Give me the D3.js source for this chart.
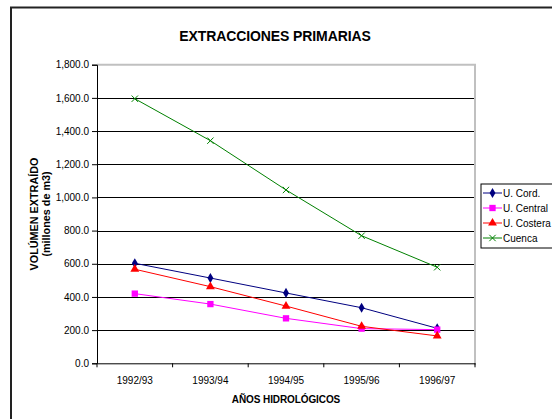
<!DOCTYPE html>
<html>
<head>
	<meta charset="utf-8">
	<title>Extracciones primarias</title>
	<script src="https://cdn.jsdelivr.net/npm/d3@7"></script>
	<style>
		body { margin: 0; background: #fff; }
		text { font-family: "Liberation Sans", Arial, sans-serif; fill: #000; }
	</style>
</head>
<body>
<script>
// datos
var years = ["1992/93", "1993/94", "1994/95", "1995/96", "1996/97"];
var cord = [603, 514, 424, 335, 211];
var central = [420, 357, 271, 209, 203];
var costera = [567, 462, 345, 223, 165];
var cuenca = [1595, 1342, 1045, 769, 579];
var yTicks = [0, 200, 400, 600, 800, 1000, 1200, 1400, 1600, 1800];

var series = [
	{ name: "U. Cord.", values: cord, color: "#000080", symbol: d3.symbolDiamond, size: 30 },
	{ name: "U. Central", values: central, color: "#ff00ff", symbol: d3.symbolSquare, size: 40 },
	{ name: "U. Costera", values: costera, color: "#ff0000", symbol: d3.symbolTriangle, size: 34 },
	{ name: "Cuenca", values: cuenca, color: "#008000", symbol: d3.symbolX, size: 28 }
];

var width = 552, height = 419;
var plotLeft = 97, plotRight = 475, plotTop = 64.7, plotBottom = 363.3;

var svg = d3.select("body").append("svg")
	.attr("width", width)
	.attr("height", height);

// marco exterior
svg.append("rect")
	.attr("x", 11).attr("y", 7.5)
	.attr("width", 600).attr("height", 500)
	.attr("fill", "none").attr("stroke", "#222").attr("stroke-width", 2);

var x = d3.scaleBand().domain(years).range([plotLeft, plotRight]);
var y = d3.scaleLinear().domain([0, 1800]).range([plotBottom, plotTop]);

// líneas de cuadrícula
svg.append("g").selectAll("line")
	.data(yTicks.slice(1, -1))
	.enter().append("line")
	.attr("x1", plotLeft).attr("x2", plotRight)
	.attr("y1", function(d){ return Math.round(y(d)) + 0.5; })
	.attr("y2", function(d){ return Math.round(y(d)) + 0.5; })
	.attr("stroke", "#000").attr("stroke-width", 1);

// borde del área de trazado
svg.append("line")
	.attr("x1", plotLeft).attr("x2", plotRight + 1)
	.attr("y1", y(1800)).attr("y2", y(1800))
	.attr("stroke", "#c0c0c0").attr("stroke-width", 2);
svg.append("line")
	.attr("x1", plotRight).attr("x2", plotRight)
	.attr("y1", y(1800)).attr("y2", plotBottom + 2)
	.attr("stroke", "#c0c0c0").attr("stroke-width", 2);

// eje Y
var yAxis = svg.append("g")
	.attr("transform", "translate(" + plotLeft + ",0)")
	.call(d3.axisLeft(y).tickValues(yTicks).tickSize(5).tickPadding(3)
		.tickFormat(function(d){ return d3.format(",.1f")(d); }));
yAxis.select(".domain").attr("stroke", "#000");
yAxis.selectAll("text").style("font-size", "10px").style("font-family", "Liberation Sans, Arial, sans-serif");

// eje X
var xAxis = svg.append("g")
	.attr("transform", "translate(0," + plotBottom + ")")
	.call(d3.axisBottom(x).tickSize(0).tickPadding(14));
xAxis.select(".domain").attr("stroke", "#000");
xAxis.selectAll("text").style("font-size", "10px").style("font-family", "Liberation Sans, Arial, sans-serif");
xAxis.selectAll(".sep")
	.data(years.concat([""]))
	.enter().append("line")
	.attr("x1", function(d, i){ return plotLeft + i * x.bandwidth(); })
	.attr("x2", function(d, i){ return plotLeft + i * x.bandwidth(); })
	.attr("y1", 0).attr("y2", 4)
	.attr("stroke", "#000");

// series
var line = d3.line()
	.x(function(d, i){ return x(years[i]) + x.bandwidth() / 2; })
	.y(function(d){ return y(d); });

series.forEach(function(s){
	svg.append("path")
		.attr("d", line(s.values))
		.attr("fill", "none")
		.attr("stroke", s.color)
		.attr("stroke-width", 1);
	svg.append("g").selectAll("path")
		.data(s.values)
		.enter().append("path")
		.attr("transform", function(d, i){
			return "translate(" + (x(years[i]) + x.bandwidth() / 2) + "," + y(d) + ")";
		})
		.attr("d", d3.symbol().type(s.symbol).size(s.size))
		.attr("fill", s.symbol === d3.symbolX ? "none" : s.color)
		.attr("stroke", s.symbol === d3.symbolX ? s.color : "none")
		.attr("stroke-width", 1);
});

// título
svg.append("text")
	.attr("x", 275).attr("y", 41)
	.attr("text-anchor", "middle")
	.style("font-size", "14px").style("font-weight", "bold")
	.style("letter-spacing", "-0.1px")
	.text("EXTRACCIONES PRIMARIAS");

// títulos de ejes
svg.append("text")
	.attr("transform", "translate(38,214) rotate(-90)")
	.attr("text-anchor", "middle")
	.style("font-size", "10.8px").style("font-weight", "bold")
	.text("VOLÚMEN EXTRAÍDO");
svg.append("text")
	.attr("transform", "translate(50,214) rotate(-90)")
	.attr("text-anchor", "middle")
	.style("font-size", "10.8px").style("font-weight", "bold")
	.text("(millones de m3)");
svg.append("text")
	.attr("x", 286).attr("y", 403)
	.attr("text-anchor", "middle")
	.style("font-size", "10px").style("font-weight", "bold")
	.style("letter-spacing", "-0.1px")
	.text("AÑOS HIDROLÓGICOS");

// leyenda
var legend = svg.append("g").attr("transform", "translate(481,184)");
legend.append("rect")
	.attr("x", 0).attr("y", 0)
	.attr("width", 90).attr("height", 64)
	.attr("fill", "#fff").attr("stroke", "#000").attr("stroke-width", 1);
var items = legend.selectAll(".item")
	.data(series)
	.enter().append("g")
	.attr("transform", function(d, i){ return "translate(0," + (9 + i * 15) + ")"; });
items.append("line")
	.attr("x1", 2).attr("x2", 21)
	.attr("stroke", function(d){ return d.color; });
items.append("path")
	.attr("transform", "translate(11.5,0)")
	.attr("d", function(d){ return d3.symbol().type(d.symbol).size(d.size)(); })
	.attr("fill", function(d){ return d.symbol === d3.symbolX ? "none" : d.color; })
	.attr("stroke", function(d){ return d.symbol === d3.symbolX ? d.color : "none"; });
items.append("text")
	.attr("x", 22).attr("y", 3.5)
	.style("font-size", "10px")
	.text(function(d){ return d.name; });
</script>
</body>
</html>
